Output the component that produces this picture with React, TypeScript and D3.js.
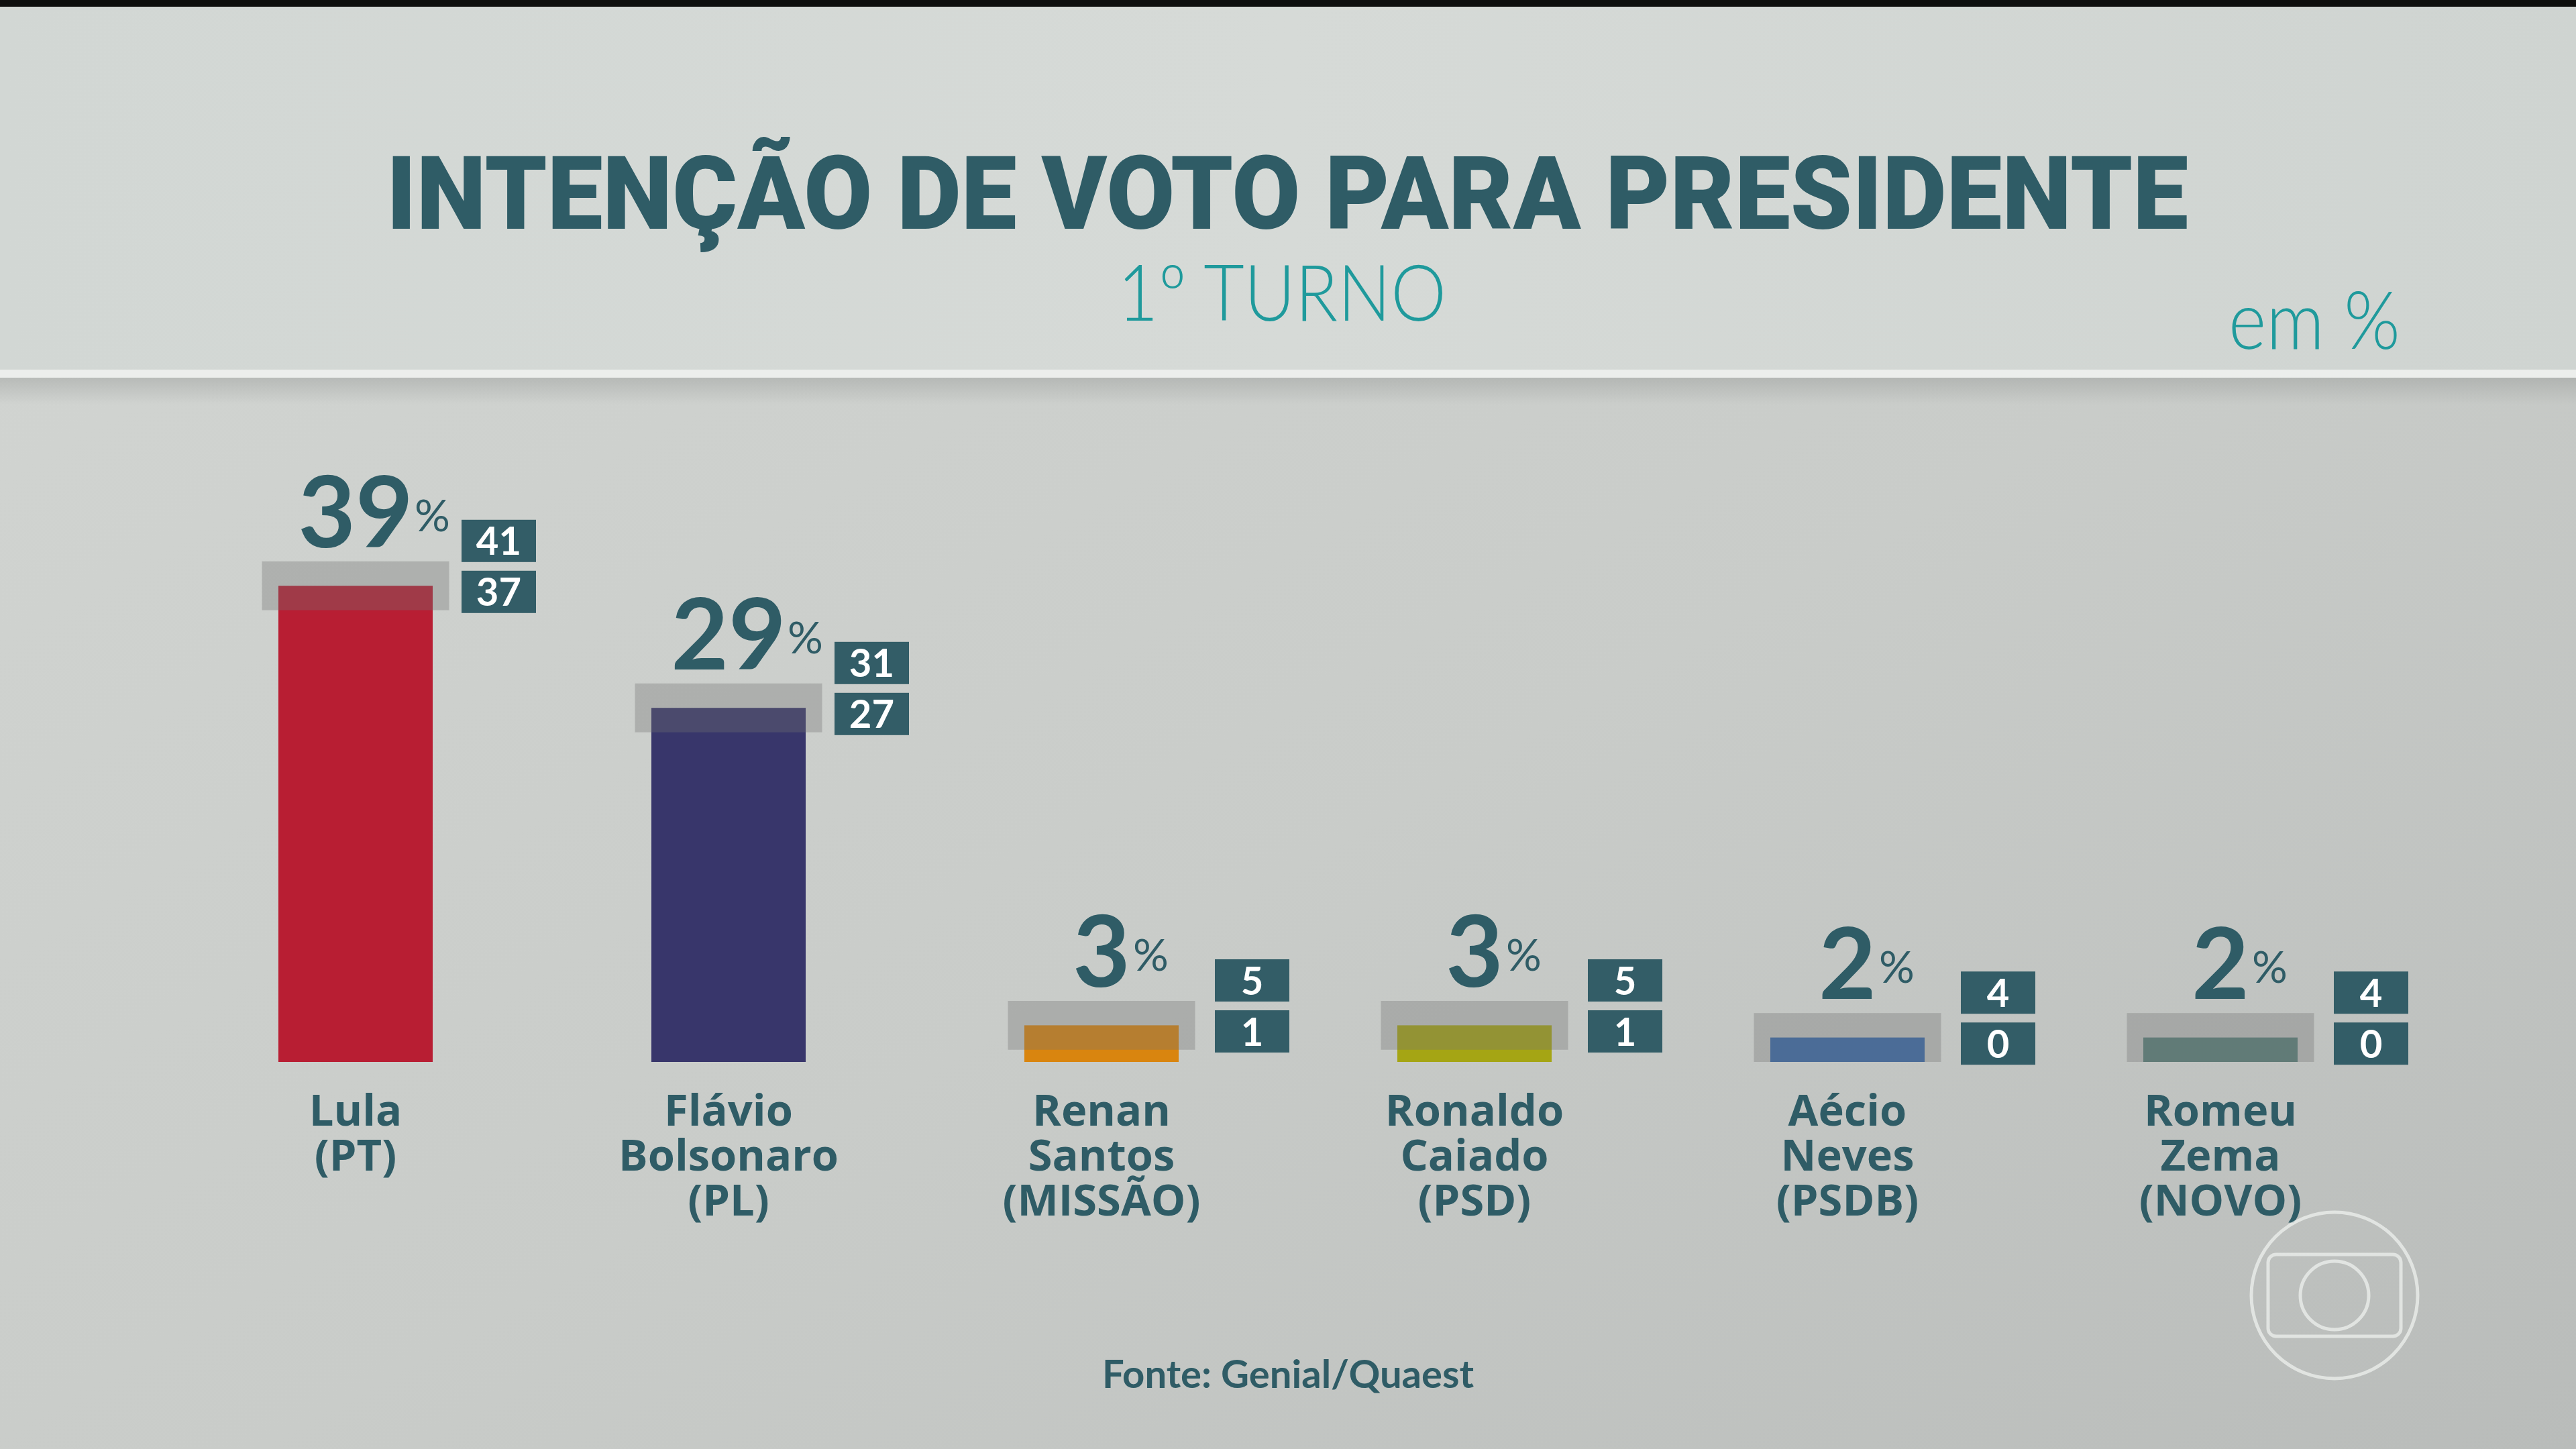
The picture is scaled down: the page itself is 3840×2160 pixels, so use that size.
import React from "react";
import * as d3 from "d3";

// Poll data: first-round vote intention, in %
const names = ["Lula", "Flávio\nBolsonaro", "Renan\nSantos", "Ronaldo\nCaiado", "Aécio\nNeves", "Romeu\nZema"];
const parties = ["(PT)", "(PL)", "(MISSÃO)", "(PSD)", "(PSDB)", "(NOVO)"];
const values = [39, 29, 3, 3, 2, 2];
const upperBounds = [41, 31, 5, 5, 4, 4];
const lowerBounds = [37, 27, 1, 1, 0, 0];
const barColors = ["#b81e33", "#38366b", "#d9850f", "#a5a514", "#3769ab", "#59807a"];

const TITLE = "INTENÇÃO DE VOTO PARA PRESIDENTE";
const SUBTITLE = "1º TURNO";
const UNIT = "em %";
const SOURCE = "Fonte: Genial/Quaest";

const W = 3840;
const H = 2160;
const DARK = "#2f5c66";
const TEAL = "#1f9a9c";
const FONT = "Lato, 'Open Sans', sans-serif";
const NAME_FONT = "'Open Sans', Lato, sans-serif";

export default function App() {
  const x = d3
    .scalePoint<number>()
    .domain(d3.range(values.length))
    .range([530, 3310]);
  const y = d3.scaleLinear().domain([0, 50]).range([1583, 1583 - 910]);

  const barW = 230;
  const bandW = 279;
  const boxW = 111;
  const boxH = 63;

  return (
    <svg
      width={W}
      height={H}
      viewBox={`0 0 ${W} ${H}`}
      style={{ position: "absolute", left: 0, top: 0, display: "block" }}
    >
      <defs>
        <linearGradient id="bodyBg" x1="0" y1="0" x2="1" y2="1">
          <stop offset="0" stopColor="#d3d6d3" />
          <stop offset="0.55" stopColor="#c9ccc9" />
          <stop offset="1" stopColor="#b9bcba" />
        </linearGradient>
        <linearGradient id="headBg" x1="0" y1="0" x2="1" y2="0">
          <stop offset="0" stopColor="#d2d7d4" />
          <stop offset="0.5" stopColor="#d6dad7" />
          <stop offset="1" stopColor="#cfd4d1" />
        </linearGradient>
        <linearGradient id="shade" x1="0" y1="0" x2="0" y2="1">
          <stop offset="0" stopColor="#8a8d8b" stopOpacity="0.35" />
          <stop offset="1" stopColor="#8a8d8b" stopOpacity="0" />
        </linearGradient>
      </defs>

      {/* background panels */}
      <rect x={0} y={0} width={W} height={H} fill="url(#bodyBg)" />
      <rect x={0} y={0} width={W} height={553} fill="url(#headBg)" />
      <rect x={0} y={563} width={W} height={40} fill="url(#shade)" />
      <rect x={0} y={551} width={W} height={12} fill="#eceeec" />
      <rect x={0} y={0} width={W} height={10} fill="#0e0f0e" />

      {/* header */}
      <text
        x={1919}
        y={341}
        textAnchor="middle"
        fontFamily="Roboto, 'Open Sans', sans-serif"
        fontWeight={900}
        fontSize={152}
        fill={DARK}
        textLength={2686}
        lengthAdjust="spacingAndGlyphs"
      >
        {TITLE}
      </text>
      <text
        x={1911}
        y={478}
        textAnchor="middle"
        fontFamily={FONT}
        fontWeight={300}
        fontSize={117}
        fill={TEAL}
        textLength={490}
        lengthAdjust="spacingAndGlyphs"
      >
        {SUBTITLE}
      </text>
      <text
        x={3578}
        y={520}
        textAnchor="end"
        fontFamily={FONT}
        fontWeight={300}
        fontSize={120}
        fill={TEAL}
        textLength={256}
        lengthAdjust="spacingAndGlyphs"
      >
        {UNIT}
      </text>

      {/* bars */}
      {values.map((v, i) => {
        const cx = x(i) as number;
        const yHi = y(upperBounds[i]);
        const yLo = y(lowerBounds[i]);
        const digits = String(v).length;
        const boxX = cx + (v >= 10 ? 158 : 169);
        const numBase = yHi - 21;
        const lines = [...names[i].split("\n"), parties[i]];
        return (
          <g key={i}>
            <rect x={cx - barW / 2} y={y(v)} width={barW} height={y(0) - y(v)} fill={barColors[i]} />
            {/* margin-of-error band */}
            <rect
              x={cx - bandW / 2}
              y={yHi}
              width={bandW}
              height={yLo - yHi}
              fill="#727272"
              fillOpacity={0.34}
            />
            {/* value label */}
            <text
              x={cx}
              y={numBase}
              textAnchor="middle"
              fontFamily={FONT}
              fontWeight={700}
              fontSize={148}
              fill={DARK}
            >
              {v}
            </text>
            <text
              x={cx + 6 + 41 * digits}
              y={numBase - 24}
              fontFamily={FONT}
              fontWeight={400}
              fontSize={66}
              fill={DARK}
            >
              %
            </text>
            {/* interval boxes */}
            <rect x={boxX} y={yHi - boxH + 1} width={boxW} height={boxH} fill="#335d67" />
            <text
              x={boxX + boxW / 2}
              y={yHi - boxH / 2 + 1 + 21}
              textAnchor="middle"
              fontFamily={FONT}
              fontWeight={700}
              fontSize={58}
              fill="#ffffff"
            >
              {upperBounds[i]}
            </text>
            <rect x={boxX} y={yHi + 14} width={boxW} height={boxH} fill="#335d67" />
            <text
              x={boxX + boxW / 2}
              y={yHi + 14 + boxH / 2 + 21}
              textAnchor="middle"
              fontFamily={FONT}
              fontWeight={700}
              fontSize={58}
              fill="#ffffff"
            >
              {lowerBounds[i]}
            </text>
            {/* candidate name */}
            {lines.map((t, k) => (
              <text
                key={k}
                x={cx}
                y={1678 + k * 67}
                textAnchor="middle"
                fontFamily={NAME_FONT}
                fontWeight={700}
                fontSize={65}
                fill={DARK}
              >
                {t}
              </text>
            ))}
          </g>
        );
      })}

      {/* source */}
      <text
        x={1920}
        y={2069}
        textAnchor="middle"
        fontFamily={FONT}
        fontWeight={700}
        fontSize={58}
        fill={DARK}
      >
        {SOURCE}
      </text>

      {/* broadcaster mark */}
      <g fill="none" stroke="#eef0ee" strokeOpacity={0.75} strokeWidth={5}>
        <circle cx={3480} cy={1931} r={124} />
        <rect x={3381} y={1870} width={198} height={122} rx={12} />
        <circle cx={3480} cy={1931} r={51} />
      </g>
    </svg>
  );
}
